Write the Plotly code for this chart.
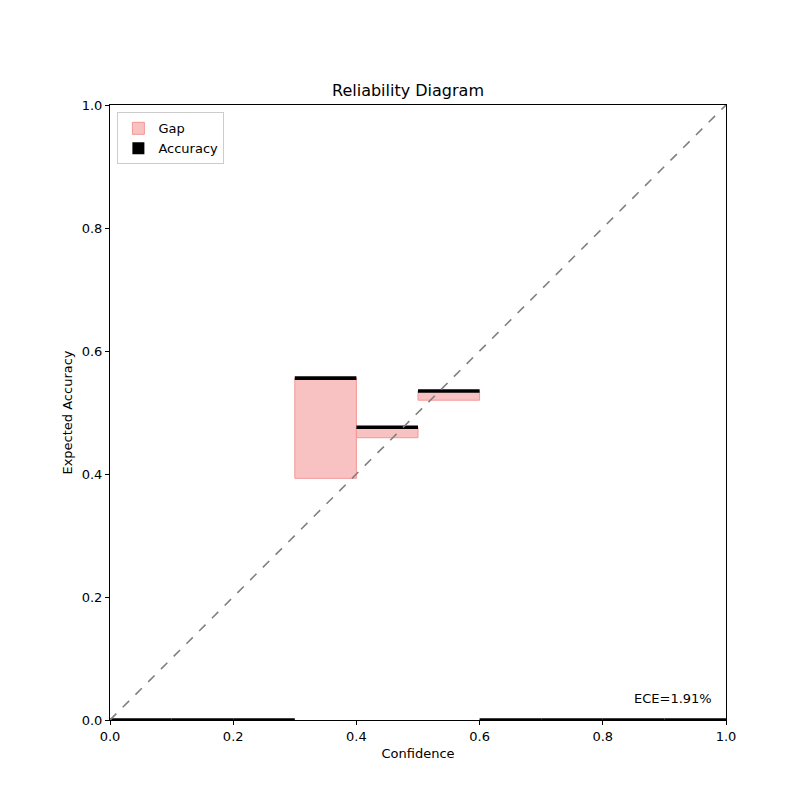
import plotly.graph_objects as go

# bin left edges, per-bin mean confidence and accuracy
bin_lefts = [0.0, 0.1, 0.2, 0.3, 0.4, 0.5, 0.6, 0.7, 0.8, 0.9]
confidence = [0.0, 0.0, 0.0, 0.393, 0.459, 0.520, 0.0, 0.0, 0.0, 0.0]
accuracy = [0.0, 0.0, 0.0, 0.556, 0.476, 0.535, 0.0, 0.0, 0.0, 0.0]
ece_text = "ECE=1.91%"

gap = [a - c for a, c in zip(accuracy, confidence)]
thick = 0.006

fig = go.Figure()
fig.add_trace(go.Bar(
    x=bin_lefts, y=gap, base=confidence, width=0.1, offset=0,
    marker=dict(color="rgba(248,194,194,1)", line=dict(color="rgba(244,150,150,1)", width=1)),
    name="Gap",
))
fig.add_trace(go.Bar(
    x=bin_lefts, y=[thick] * len(accuracy), base=[a - thick / 2 for a in accuracy],
    width=0.1, offset=0, marker=dict(color="black", line=dict(width=0)),
    name="Accuracy",
))
fig.add_trace(go.Scatter(
    x=[0, 1], y=[0, 1], mode="lines",
    line=dict(color="gray", dash="dash", width=1.6), showlegend=False,
))

fig.add_annotation(x=0.98, y=0.02, xref="x", yref="y", text=ece_text,
                   showarrow=False, xanchor="right", yanchor="bottom",
                   font=dict(size=13, color="black"))

fig.update_layout(
    width=800, height=800, barmode="overlay",
    plot_bgcolor="white", paper_bgcolor="white",
    font=dict(family="DejaVu Sans", size=12, color="black"),
    title=dict(text="Reliability Diagram", x=0.5, xanchor="center", y=0.897, yanchor="middle",
               font=dict(size=16)),
    margin=dict(l=102, r=82, t=97, b=88, autoexpand=False),
    legend=dict(x=0.012, y=0.988, xanchor="left", yanchor="top",
                bgcolor="white", bordercolor="#cccccc", borderwidth=1,
                font=dict(size=13), tracegroupgap=0),
)
axis_style = dict(range=[0, 1], dtick=0.2, tickformat=".1f", showgrid=False, zeroline=False,
                  showline=True, linecolor="black", linewidth=1, mirror=True,
                  ticks="outside", ticklen=4, tickcolor="black", automargin=False,
                  tickfont=dict(size=13))
fig.update_xaxes(title=dict(text="Confidence", standoff=6, font=dict(size=13)), **axis_style)
fig.update_yaxes(title=dict(text="Expected Accuracy", standoff=6, font=dict(size=13)), **axis_style)

fig.write_html("out.html")
